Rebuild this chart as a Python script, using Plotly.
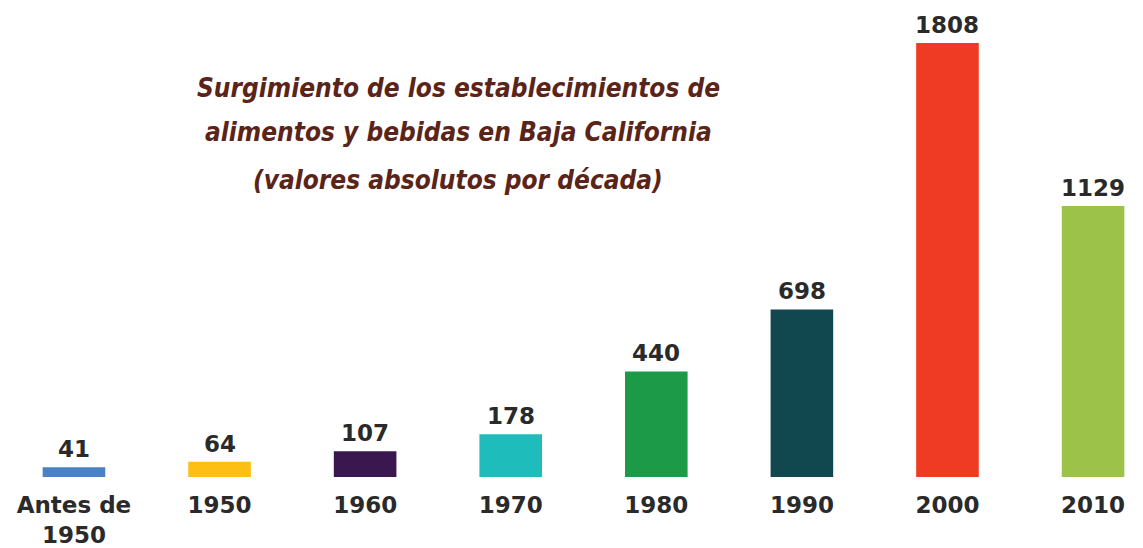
import plotly.graph_objects as go

categories = ["Antes de<br>1950", "1950", "1960", "1970", "1980", "1990", "2000", "2010"]
values = [41, 64, 107, 178, 440, 698, 1808, 1129]
colors = ["#4a80c6", "#fdbf14", "#3a174f", "#1fbcbc", "#1c9a48", "#11474f", "#ef3b23", "#9dc24a"]
title_lines = [
    "Surgimiento de los establecimientos de",
    "alimentos y bebidas en Baja California",
    "(valores absolutos por década)",
]
title_y = [0.829, 0.7356, 0.633]

xs = list(range(len(categories)))
num_font = dict(family="DejaVu Sans", size=23, color="#2a2a2a")

fig = go.Figure()
fig.add_trace(go.Bar(
    x=xs, y=values, width=0.43,
    marker=dict(color=colors, line=dict(width=0)),
    hoverinfo="skip",
))

for x, v in zip(xs, values):
    fig.add_annotation(
        x=x, y=v, xref="x", yref="y", text=f"<b>{v}</b>", showarrow=False,
        yanchor="bottom", yshift=3, font=num_font,
    )

for line, ty in zip(title_lines, title_y):
    fig.add_annotation(
        x=0.3965, y=ty, xref="paper", yref="paper", text=f"<b><i>{line}</i></b>",
        showarrow=False, xanchor="center", yanchor="middle",
        font=dict(family="DejaVu Sans Condensed, DejaVu Sans", size=26, color="#5b2419"),
    )

fig.update_layout(
    width=1135, height=540,
    margin=dict(l=0, r=0, t=0, b=71, autoexpand=False),
    paper_bgcolor="white", plot_bgcolor="white",
    showlegend=False,
    xaxis=dict(
        range=[-0.453, 7.343], tickmode="array", tickvals=xs,
        ticktext=[f"<b>{c}</b>" for c in categories],
        showgrid=False, zeroline=False, showline=False, ticks="",
        ticklabelstandoff=12, automargin=False,
        tickfont=num_font,
    ),
    yaxis=dict(range=[0, 1954], visible=False, showgrid=False, zeroline=False),
)

fig.write_html("out.html")
